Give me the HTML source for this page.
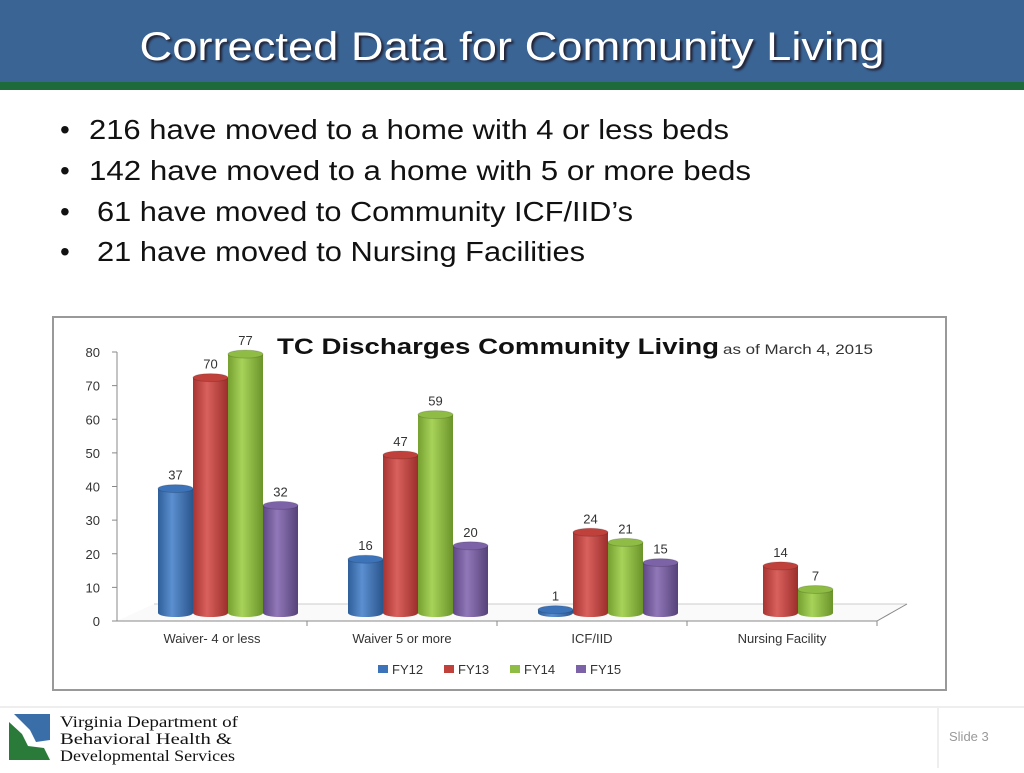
<!DOCTYPE html>
<html><head><meta charset="utf-8"><style>
body{margin:0;width:1024px;height:768px;overflow:hidden;background:#fff;font-family:"Liberation Sans",sans-serif}
</style></head><body>
<svg width="1024" height="768" viewBox="0 0 1024 768">
<defs>
<linearGradient id="gFY12" x1="0" x2="1"><stop offset="0" stop-color="#2f5f9a"/><stop offset="0.4" stop-color="#5b8fd0"/><stop offset="1" stop-color="#2b558c"/></linearGradient>
<linearGradient id="gFY13" x1="0" x2="1"><stop offset="0" stop-color="#a83330"/><stop offset="0.4" stop-color="#d9615d"/><stop offset="1" stop-color="#9c2e2b"/></linearGradient>
<linearGradient id="gFY14" x1="0" x2="1"><stop offset="0" stop-color="#76a030"/><stop offset="0.4" stop-color="#a7d35a"/><stop offset="1" stop-color="#6b942a"/></linearGradient>
<linearGradient id="gFY15" x1="0" x2="1"><stop offset="0" stop-color="#5e4884"/><stop offset="0.4" stop-color="#9178b8"/><stop offset="1" stop-color="#56427a"/></linearGradient>
</defs>
<rect x="0" y="0" width="1024" height="82" fill="#3a6494"/>
<rect x="0" y="82" width="1024" height="8" fill="#1e6a3a"/>
<text x="512" y="60" text-anchor="middle" font-size="40" fill="#fff" textLength="745" lengthAdjust="spacingAndGlyphs" style="text-shadow:2px 2px 2px #223">Corrected Data for Community Living</text>
<g font-size="28" fill="#111">
<text x="60" y="139">•</text><text x="89" y="139" textLength="640" lengthAdjust="spacingAndGlyphs">216 have moved to a home with 4 or less beds</text>
<text x="60" y="180">•</text><text x="89" y="180" textLength="662" lengthAdjust="spacingAndGlyphs">142 have moved to a home with 5 or more beds</text>
<text x="60" y="221">•</text><text x="97" y="221" textLength="536" lengthAdjust="spacingAndGlyphs">61 have moved to Community ICF/IID’s</text>
<text x="60" y="261">•</text><text x="97" y="261" textLength="488" lengthAdjust="spacingAndGlyphs">21 have moved to Nursing Facilities</text>
</g>
<rect x="53" y="317" width="893" height="373" fill="#fff" stroke="#999" stroke-width="2"/>
<text x="277" y="354" font-size="22" font-weight="bold" fill="#111" textLength="442" lengthAdjust="spacingAndGlyphs">TC Discharges Community Living</text>
<text x="723" y="354" font-size="14" fill="#333" textLength="150" lengthAdjust="spacingAndGlyphs">as of March 4, 2015</text>
<g id="chart"></g>
<g>
<line x1="0" y1="707" x2="1024" y2="707" stroke="#eee" stroke-width="2"/>
<line x1="938" y1="708" x2="938" y2="768" stroke="#ddd"/>
<rect x="9" y="714" width="41" height="46" fill="#fff"/>
<path d="M14 714 L50 714 L50 740 L36 742 L30 730 Z" fill="#3a6ea8"/>
<path d="M9 722 L22 734 L28 746 L44 748 L50 760 L9 760 Z" fill="#2a7a3a"/>
<g font-family="Liberation Serif,serif" font-size="16" fill="#111">
<text x="60" y="727" textLength="178" lengthAdjust="spacingAndGlyphs">Virginia Department of</text>
<text x="60" y="744" textLength="172" lengthAdjust="spacingAndGlyphs">Behavioral Health &amp;</text>
<text x="60" y="761" textLength="175" lengthAdjust="spacingAndGlyphs">Developmental Services</text>
</g>
<text x="949" y="741" font-size="13" fill="#999">Slide 3</text>
</g>
</svg>
<script>
const categories=["Waiver- 4 or less","Waiver 5 or more","ICF/IID","Nursing Facility"];
const seriesNames=["FY12","FY13","FY14","FY15"];
const fy12=[37,16,1,null];
const fy13=[70,47,24,14];
const fy14=[77,59,21,7];
const fy15=[32,20,15,null];
const yTicks=[0,10,20,30,40,50,60,70,80];
const series=[fy12,fy13,fy14,fy15];
const colors=["#3d73b8","#c0413c","#8fbc45","#7c62a6"];
const NS="http://www.w3.org/2000/svg";
const g=document.getElementById('chart');
const x0=117,x1=877,y0=621,yTop=352;
const y=v=>y0-(v/80)*(y0-yTop);
const groupW=(x1-x0)/categories.length, barW=35;
function mk(t,a,p){const e=document.createElementNS(NS,t);for(const k in a)e.setAttribute(k,a[k]);(p||g).appendChild(e);return e;}
// floor
mk('polygon',{points:`${x0+37},604 ${x1+30},604 ${x1},621 ${x0},621`,fill:'#fafafa',stroke:'none'});
mk('line',{x1:x0+37,y1:604,x2:x1+30,y2:604,stroke:'#ccc'});
mk('line',{x1:x1,y1:621,x2:x1+30,y2:604,stroke:'#888'});
mk('line',{x1:x0,y1:352,x2:x0,y2:621,stroke:'#888'});
mk('line',{x1:x0,y1:621,x2:x1,y2:621,stroke:'#888'});
yTicks.forEach(t=>{
 const l=mk('line',{x1:x0-5,y1:y(t),x2:x0,y2:y(t),stroke:'#888'});
 
 
 const tx=mk('text',{x:x0-17,y:y(t)+5,'text-anchor':'end','font-size':13,fill:'#333'});
 tx.textContent=t;
 
 
});
categories.forEach((c,i)=>{
 mk('line',{x1:x0+groupW*(i+1),y1:621,x2:x0+groupW*(i+1),y2:626,stroke:'#888'});
 const tx=mk('text',{x:x0+groupW*i+groupW/2,y:643,'text-anchor':'middle','font-size':13,fill:'#333'});
 tx.textContent=c;
 
 
 series.forEach((s,j)=>{
  const v=s[i]; if(v==null)return;
  const bx=x0+groupW*i+41+j*barW, base=613, top=base-(v/80)*(y0-yTop);
  const bg=mk('g',{});
  
  
  mk('rect',{x:bx,y:top,width:barW,height:base-top,fill:`url(#g${seriesNames[j]})`},bg);
  mk('ellipse',{cx:bx+barW/2,cy:base,rx:barW/2,ry:4,fill:`url(#g${seriesNames[j]})`},bg);
  mk('ellipse',{cx:bx+barW/2,cy:top,rx:barW/2,ry:4,fill:colors[j],stroke:'rgba(0,0,0,0.15)'},bg);
  const lt=mk('text',{x:bx+barW/2,y:top-9,'text-anchor':'middle','font-size':13,fill:'#333'});
  lt.textContent=v;
  
  
 });
});
seriesNames.forEach((n,j)=>{
 const lx=378+j*66;
 const lg=mk('g',{});
 
 
 mk('rect',{x:lx,y:665,width:10,height:8,fill:colors[j]},lg);
 const t=mk('text',{x:lx+14,y:674,'font-size':13,fill:'#333'},lg);
 t.textContent=n;
});
</script>
</body></html>
